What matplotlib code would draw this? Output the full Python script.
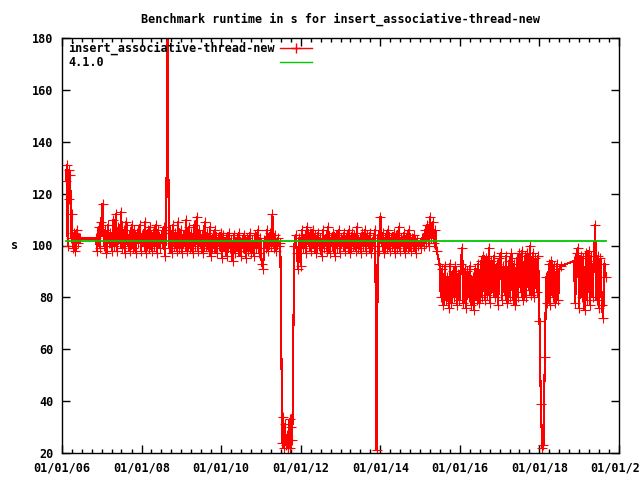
import numpy as np
import pandas as pd
import matplotlib
matplotlib.use('Agg')
import matplotlib.pyplot as plt
import matplotlib.dates as mdates
from matplotlib.lines import Line2D

plt.rcParams['font.family'] = 'DejaVu Sans Mono'
plt.rcParams['font.weight'] = 'bold'
plt.rcParams['font.size'] = 8.5
plt.rcParams['axes.titleweight'] = 'bold'
plt.rcParams['axes.labelweight'] = 'bold'

# runs, split into the stretches between gaps (start date, end date, runtimes in s)
seg_a_span = ('2006-02-06', '2006-06-13')
seg_a = [125, 131, 100, 129, 118, 127, 103, 112, 99, 105, 98, 104, 100, 106, 101, 103, 102.7]

seg_b_span = ('2006-11-08', '2011-06-28')
seg_b = [102.7, 98, 107, 99, 109, 116, 100, 106, 97, 108, 101, 105, 98, 110,
         100, 112, 98, 107, 101, 113, 99, 106, 97, 109, 100, 104, 98, 108,
         99, 106, 97, 105, 101, 108, 98, 104, 100, 109, 97, 106, 99, 107,
         98, 105, 100, 108, 97, 106, 99, 104, 101, 107, 96, 105, 185, 99,
         106, 97, 108, 100, 105, 98, 109, 99, 106, 97, 104, 100, 110, 98,
         107, 99, 105, 97, 108, 100, 111, 98, 106, 99, 104, 97, 109, 100,
         105, 98, 107, 96, 104, 99, 106, 97, 103, 100, 105, 95, 104, 98,
         103, 96, 105, 99, 102, 94, 104, 97, 103, 98, 105, 96, 102, 99,
         104, 95, 103, 98, 105, 97, 102, 96, 104, 99, 106, 97, 103, 93,
         91, 102, 99, 106, 98, 105, 100, 112, 99, 104, 98, 103, 100, 101]

seg_c_span = ('2011-07-16', '2011-10-16')
seg_c = [24, 34, 22, 31, 23, 27, 22, 25, 33, 22, 30, 25]

seg_d_span = ('2011-11-03', '2015-06-02')
seg_d = [100, 104, 97, 91, 103, 92, 106, 99, 104, 97, 107, 100, 105, 98,
         106, 99, 104, 97, 105, 100, 103, 96, 106, 99, 104, 98, 107, 97,
         103, 100, 105, 96, 104, 99, 106, 97, 103, 100, 105, 98, 104, 99,
         106, 97, 105, 100, 104, 98, 107, 99, 103, 97, 105, 100, 106, 98,
         104, 99, 105, 97, 103, 100, 106, 21, 104, 98, 111, 100, 105, 97,
         104, 99, 106, 98, 103, 100, 105, 97, 104, 99, 107, 98, 103, 100,
         105, 97, 104, 99, 106, 98, 103, 100, 104, 97, 102, 100, 101, 99,
         103, 100, 106, 101, 108, 100, 111, 103, 109, 101, 106, 98]

seg_e_span = ('2015-06-28', '2018-07-16')
seg_e = [93, 80, 91, 77, 92, 79, 88, 76, 93, 78, 90, 80, 92, 77,
         89, 79, 93, 99, 78, 91, 76, 90, 80, 92, 77, 88, 75, 91,
         79, 93, 78, 94, 80, 96, 79, 95, 81, 99, 78, 94, 82, 96,
         80, 93, 77, 95, 97, 79, 92, 81, 96, 78, 94, 80, 97, 79,
         93, 77, 95, 80, 97, 82, 98, 79, 96, 80, 97, 83, 100, 81,
         97, 80, 95, 82, 96, 71, 39, 22, 23, 57, 88, 78, 93, 77,
         94, 80, 92, 78, 93, 79, 91, 92]

seg_f_span = ('2018-11-13', '2019-09-02')
seg_f = [94, 78, 97, 99, 76, 96, 80, 95, 75, 97, 79, 98, 77, 96, 80, 94,
         108, 79, 96, 76, 95, 77, 72, 93, 88]

# reference value for release 4.1.0
ref_value = 101.8
ref_label = '4.1.0'
series_label = 'insert_associative-thread-new'

segments = [(seg_a_span, seg_a), (seg_b_span, seg_b), (seg_c_span, seg_c),
            (seg_d_span, seg_d), (seg_e_span, seg_e), (seg_f_span, seg_f)]

dates = []
values = []
for (start, end), vals in segments:
    dates.extend(pd.date_range(start, end, periods=len(vals)))
    values.extend(vals)

fig = plt.figure(figsize=(6.4, 4.8), dpi=100)
ax = fig.add_axes([62 / 640, 27 / 480, 557 / 640, 415 / 480])

red_style = dict(color='#ff0000', linewidth=0.8, marker='+', markersize=7,
                 markeredgewidth=0.8, antialiased=False)
green_style = dict(color='#00c800', linewidth=1.3)

ax.plot(dates, values, **red_style)
ax.plot([dates[0], dates[-1]], [ref_value, ref_value], **green_style)

ax.set_xlim(pd.Timestamp('2006-01-01'), pd.Timestamp('2020-01-01'))
ax.set_ylim(20, 180)
ax.set_yticks(np.arange(20, 181, 20))
ax.xaxis.set_major_locator(mdates.YearLocator(2))
ax.xaxis.set_major_formatter(mdates.DateFormatter('%m/%d/%y'))
ax.xaxis.set_minor_locator(mdates.MonthLocator(bymonth=[1, 4, 7, 10]))

ax.tick_params(which='major', direction='in', length=6, width=1,
               top=True, right=True, pad=6)
ax.tick_params(which='minor', direction='in', length=3, width=1, top=True)
for sp in ax.spines.values():
    sp.set_linewidth(1)

ax.set_title('Benchmark runtime in s for insert_associative-thread-new', pad=11, fontsize=8.5)
ax.set_ylabel('s', rotation=0, labelpad=13, va='center')

# gnuplot style key: text left, sample on the right
tr = ax.transAxes
keys = [(series_label, '#ff0000', '+'), (ref_label, '#00c800', None)]
for row, (label, col, mk) in enumerate(keys):
    y = 0.976 - row * 0.034
    ax.text(0.011, y, label, transform=tr, ha='left', va='center')
    ax.add_line(Line2D([0.391, 0.449], [y, y], transform=tr, color=col, linewidth=1))
    if mk:
        ax.add_line(Line2D([0.42], [y], transform=tr, linestyle='none', color=col,
                           marker=mk, markersize=7, markeredgewidth=1))

fig.savefig('out.png', dpi=100)
